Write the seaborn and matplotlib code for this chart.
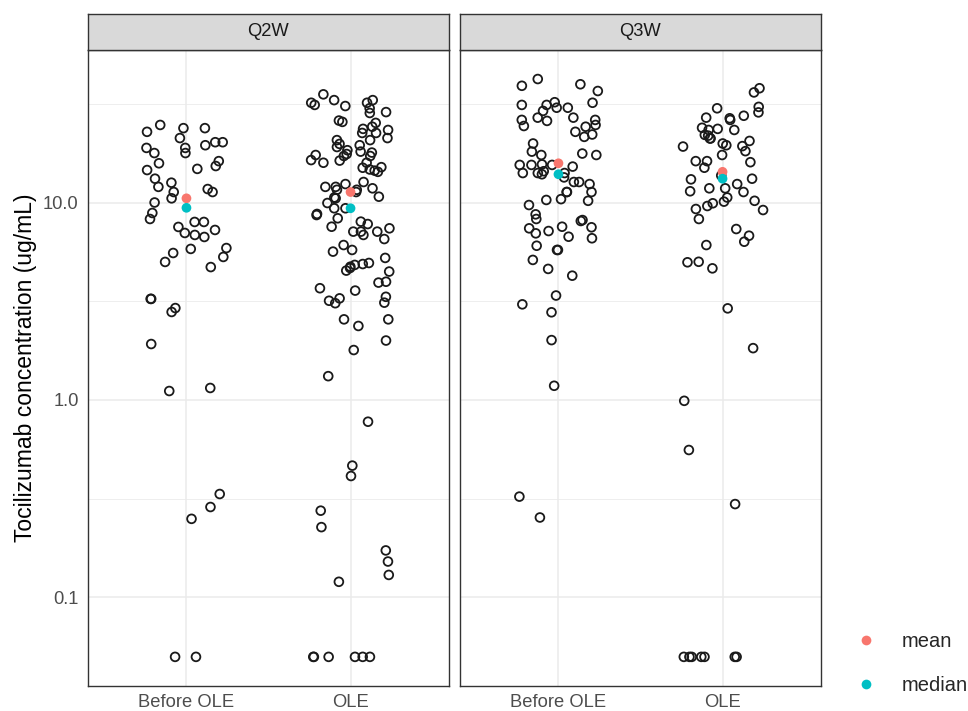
import numpy as np
import pandas as pd
import matplotlib
matplotlib.use("Agg")
import matplotlib.pyplot as plt
import seaborn as sns
from matplotlib.ticker import FixedLocator, NullFormatter

sns.set_theme(style="white")
plt.rcParams['font.family'] = ['Liberation Sans', 'DejaVu Sans']

# ---------------- data ----------------
periods = ["Before OLE", "OLE"]
regimens = ["Q2W", "Q3W"]

q2w_before = [24.7, 22.8, 23.8, 23.8, 21.2, 18.9, 18.9, 17.8, 20.2, 20.2, 19.5, 17.8,
              16.2, 15.3, 15.8, 14.8, 14.6, 13.2, 12.6, 12.0, 11.7, 11.3, 11.3, 10.5,
              10.0, 8.85, 7.97, 7.97, 8.25, 7.01, 7.52, 7.26, 6.69, 6.85, 5.82, 5.30,
              5.88, 5.55, 5.00, 4.71, 3.25, 2.92, 3.25, 2.79, 1.92, 1.11, 1.15, 0.334,
              0.287, 0.250, 0.05, 0.05]
q2w_ole = [35.3, 30.8, 30.0, 31.2, 32.0, 33.0, 33.0, 32.0, 28.4, 28.7, 25.6, 26.0,
           25.3, 24.2, 23.6, 22.5, 22.5, 23.3, 20.7, 20.7, 21.2, 19.1, 19.5, 19.8,
           18.4, 17.4, 16.4, 17.9, 17.6, 18.1, 17.2, 17.2, 16.3, 15.9, 14.5, 14.3,
           14.7, 15.1, 15.0, 15.9, 12.0, 11.8, 11.6, 12.4, 12.0, 11.3, 12.7, 11.6,
           10.5, 9.94, 10.7, 10.6, 9.35, 8.75, 9.35, 8.64, 8.32, 7.78, 7.40, 8.0,
           7.54, 6.85, 7.12, 7.12, 7.12, 6.53, 6.09, 5.64, 5.75, 5.24, 4.94, 4.66,
           4.73, 4.88, 4.52, 4.83, 4.47, 3.97, 3.93, 3.68, 3.58, 3.27, 3.11, 3.09,
           3.33, 3.18, 2.56, 2.56, 2.37, 2.00, 1.79, 1.32, 0.776, 0.465, 0.412,
           0.275, 0.227, 0.173, 0.152, 0.130, 0.120,
           0.05, 0.05, 0.05, 0.05, 0.05, 0.05]
q3w_before = [42.2, 39.0, 36.7, 39.7, 32.2, 30.2, 32.0, 31.2, 31.2, 30.2, 29.1, 26.9,
              26.2, 25.9, 26.9, 26.2, 24.2, 24.4, 24.7, 22.8, 22.1, 21.5, 19.9, 18.1,
              17.4, 17.4, 17.7, 15.5, 15.6, 15.2, 14.1, 12.7, 12.4, 14.4, 13.9, 15.5,
              15.5, 14.1, 14.1, 12.7, 13.4, 11.3, 11.3, 11.3, 10.4, 10.2, 10.3, 9.71,
              8.71, 8.15, 8.25, 8.06, 7.49, 7.54, 7.40, 6.71, 7.17, 6.59, 6.98, 6.04,
              5.75, 5.75, 5.12, 4.61, 4.26, 3.38, 3.05, 2.78, 2.01, 1.18, 0.324, 0.254]
q3w_ole = [37.9, 36.1, 30.5, 27.5, 30.0, 28.6, 26.9, 26.2, 26.7, 23.6, 23.9, 23.3,
           23.3, 22.0, 21.1, 21.1, 21.8, 20.5, 19.5, 19.2, 19.3, 19.9, 18.2, 17.4,
           16.2, 16.0, 16.2, 15.0, 13.7, 13.2, 13.1, 11.8, 11.8, 12.4, 11.4, 11.3,
           10.6, 10.1, 9.91, 9.60, 10.2, 9.16, 9.27, 8.25, 7.34, 6.33, 6.79, 6.09,
           5.01, 4.98, 4.64, 2.91, 1.83, 0.99, 0.558, 0.297,
           0.05, 0.05, 0.05, 0.05, 0.05, 0.05, 0.05]

summary_regimen = ["Q2W", "Q2W", "Q3W", "Q3W"]
summary_period = ["Before OLE", "OLE", "Before OLE", "OLE"]
mean_values = [10.5, 11.3, 15.8, 14.3]
median_values = [9.4, 9.35, 13.9, 13.2]

stat_labels = ["mean", "median"]
stat_colors = ["#F8766D", "#00BFC4"]

y_ticks = [0.1, 1.0, 10.0]
y_tick_labels = ["0.1", "1.0", "10.0"]
y_minor = [10 ** -1.5, 10 ** -0.5, 10 ** 0.5, 10 ** 1.5]
y_title = "Tocilizumab concentration (ug/mL)"

# ---------------- tables ----------------
rows = []
for reg, per, vals in [("Q2W", "Before OLE", q2w_before), ("Q2W", "OLE", q2w_ole),
                       ("Q3W", "Before OLE", q3w_before), ("Q3W", "OLE", q3w_ole)]:
    rows += [(reg, per, v) for v in vals]
df = pd.DataFrame(rows, columns=["regimen", "period", "conc"])

summ = pd.DataFrame({
    "regimen": summary_regimen * 2,
    "period": summary_period * 2,
    "stat": ["mean"] * 4 + ["median"] * 4,
    "value": mean_values + median_values,
})

# ---------------- figure ----------------
W, H = 968, 711
fig = plt.figure(figsize=(W / 100, H / 100), dpi=100)
panels = {"Q2W": (88, 449), "Q3W": (460, 821)}
top, bottom, strip_top = 50, 686, 14
dark = "#333333"
np.random.seed(11)

for i, reg in enumerate(regimens):
    x0, x1 = panels[reg]
    ax = fig.add_axes([x0 / W, (H - bottom) / H, (x1 - x0) / W, (bottom - top) / H])
    sax = fig.add_axes([x0 / W, (H - top) / H, (x1 - x0) / W, (top - strip_top) / H])

    sub = df[df.regimen == reg]
    sns.stripplot(data=sub, x="period", y="conc", order=periods, jitter=0.25,
                  size=6.3, color="black", linewidth=1.3, ax=ax, zorder=3)
    for coll in ax.collections:
        coll.set_facecolor("none")
        coll.set_edgecolor("#1A1A1A")
        coll.set_linewidth(1.3)

    sns.stripplot(data=summ[summ.regimen == reg], x="period", y="value", order=periods,
                  hue="stat", hue_order=stat_labels, palette=stat_colors, jitter=False,
                  size=7.0, linewidth=0, ax=ax, zorder=4, legend=(i == 1))

    ax.set_yscale("log")
    ax.set_ylim(0.0356, 59.2)
    ax.set_xlim(-0.6, 1.6)
    ax.yaxis.set_major_locator(FixedLocator(y_ticks))
    ax.set_yticklabels(y_tick_labels)
    ax.yaxis.set_minor_locator(FixedLocator(y_minor))
    ax.yaxis.set_minor_formatter(NullFormatter())
    ax.set_axisbelow(True)
    ax.grid(True, which="major", color="#EBEBEB", linewidth=1.1)
    ax.grid(True, which="minor", axis="y", color="#EBEBEB", linewidth=0.6)
    ax.tick_params(which="minor", length=0)
    ax.tick_params(which="major", length=4.3, width=1.0, color=dark,
                   labelcolor="#4D4D4D", labelsize=13.2)
    ax.tick_params(axis="x", pad=1.5)
    ax.tick_params(axis="y", pad=2.5)
    for sp in ax.spines.values():
        sp.set_color(dark)
        sp.set_linewidth(1.0)
        sp.set_visible(True)
    ax.set_xlabel("")
    if i == 0:
        ax.set_ylabel(y_title, fontsize=16.5, color="black", labelpad=4)
    else:
        ax.set_ylabel("")
        ax.tick_params(axis="y", which="both", left=False, labelleft=False)

    # facet strip
    sax.set_facecolor("#D9D9D9")
    sax.set_xticks([])
    sax.set_yticks([])
    for sp in sax.spines.values():
        sp.set_color(dark)
        sp.set_linewidth(1.0)
        sp.set_visible(True)
    sax.text(0.5, 0.5, reg, transform=sax.transAxes, ha="center", va="center",
             fontsize=13.2, color="#1A1A1A")

    if i == 1:
        sns.move_legend(ax, loc="center left", bbox_to_anchor=(838 / W, 1 - 663.5 / H),
                        bbox_transform=fig.transFigure, title=None, frameon=False,
                        fontsize=14.5, handlelength=1.0, handletextpad=1.25,
                        labelspacing=1.2)
        leg = ax.get_legend()
        for h in leg.legend_handles:
            try:
                h.set_markersize(7.0)
            except Exception:
                pass

fig.savefig("out.png", dpi=100)
